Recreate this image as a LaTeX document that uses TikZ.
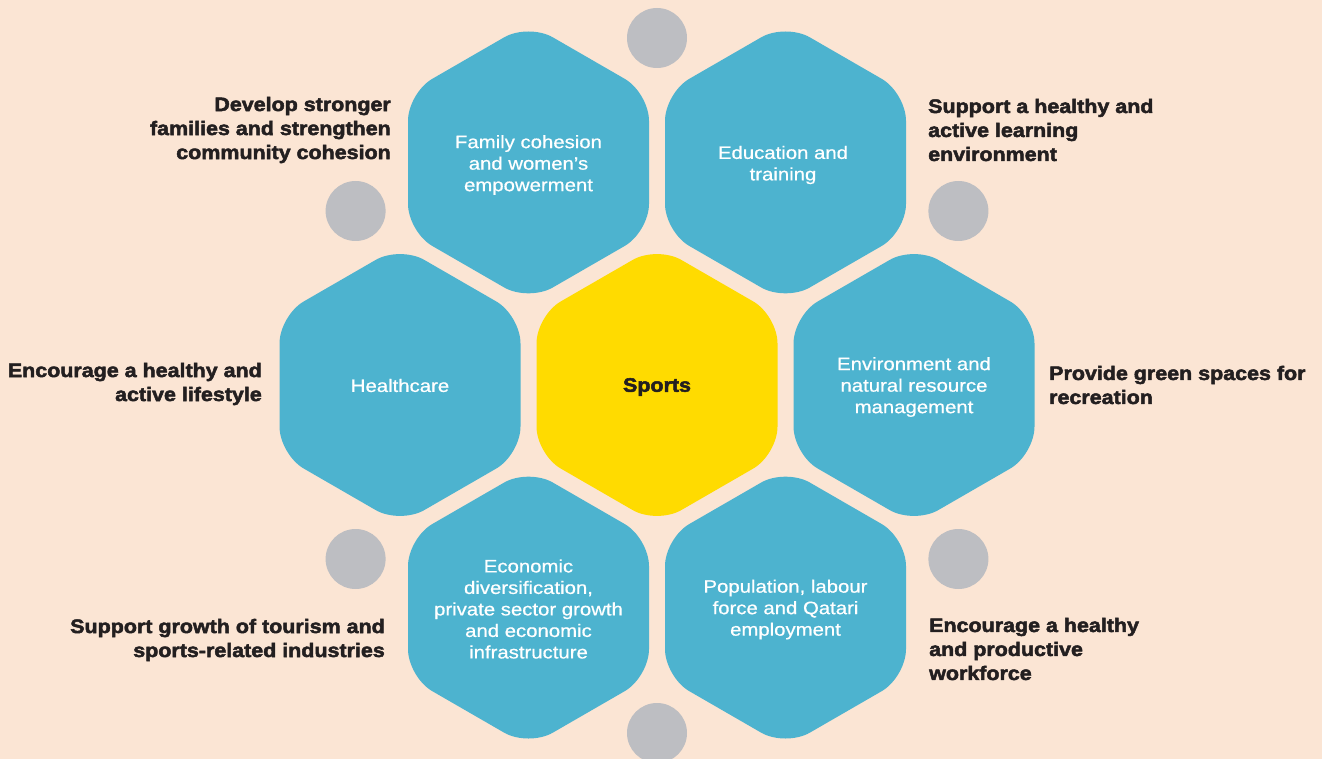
\documentclass[tikz,border=0pt]{standalone}
\usepackage{fontspec}
\setmainfont{Liberation Sans}
\newfontfamily\heavyfont{Liberation Sans}[BoldFeatures={FakeBold=2.5,FakeStretch=1.1}]
\newfontfamily\hexfont{Liberation Sans}[FakeStretch=1.13,FakeBold=0.6]
\definecolor{bgpeach}{HTML}{FBE5D4}
\definecolor{hexblue}{HTML}{4DB3CF}
\definecolor{sportyellow}{HTML}{FFDB00}
\definecolor{dotgrey}{HTML}{BDBEC2}
\definecolor{ink}{HTML}{231F20}
\tikzset{
  hexshape/.style={rounded corners=28pt},
  hextext/.style={text=white, inner sep=0pt, align=center, font=\hexfont\fontsize{18}{21.5}\selectfont},
  goaltext/.style={text=ink, inner sep=0pt, font=\heavyfont\bfseries\fontsize{19.5}{24}\selectfont},
  dot/.style={circle, fill=dotgrey, minimum size=60pt, inner sep=0pt}
}
\begin{document}
\begin{tikzpicture}[x=1pt,y=-1pt]
\fill[bgpeach] (0,0) rectangle (1322,759);
\useasboundingbox (0,0) rectangle (1322,759);
% hexagons
\foreach \cx/\cy/\col in {657/385/sportyellow, 400/385/hexblue, 914/385/hexblue,
  528.5/162.4/hexblue, 785.5/162.4/hexblue, 528.5/607.6/hexblue, 785.5/607.6/hexblue}{
  \fill[\col, hexshape, shift={(\cx,\cy)}]
    (120.5,0) -- (120.5,69.55) -- (0,139.1) -- (-120.5,69.55) -- (-120.5,-69.55)
    -- (0,-139.1) -- (120.5,-69.55) -- cycle;
}
% grey dots
\node[dot] (dtop) at (657,38) {};
\node[dot] (dul) at (355.6,211) {};
\node[dot] (dur) at (958.4,211) {};
\node[dot] (dll) at (355.6,559) {};
\node[dot] (dlr) at (958.4,559) {};
\node[dot] (dbot) at (657,733) {};
% hexagon texts
\node[goaltext] (sports) at (657,387) {Sports};
\node[hextext] (family) at (528.5,165) {Family cohesion\\and women’s\\empowerment};
\node[hextext] (edu) at (783,165) {Education and\\training};
\node[hextext] (health) at (400,385.5) {Healthcare};
\node[hextext] (env) at (914,387) {Environment and\\natural resource\\management};
\node[hextext] (econ) at (528.5,609) {Economic\\diversification,\\private sector growth\\and economic\\infrastructure};
\node[hextext] (pop) at (785.5,609.5) {Population, labour\\force and Qatari\\employment};
% goal labels
\node[goaltext, anchor=east, align=right] (gfamily) at (391,130) {Develop stronger\\families and strengthen\\community cohesion};
\node[goaltext, anchor=west, align=left] (gedu) at (928,130) {Support a healthy and\\active learning\\environment};
\node[goaltext, anchor=east, align=right] (ghealth) at (262,384) {Encourage a healthy and\\active lifestyle};
\node[goaltext, anchor=west, align=left] (genv) at (1049,385) {Provide green spaces for\\recreation};
\node[goaltext, anchor=east, align=right] (gecon) at (385,640) {Support growth of tourism and\\sports-related industries};
\node[goaltext, anchor=west, align=left] (gpop) at (929,649) {Encourage a healthy\\and productive\\workforce};
\end{tikzpicture}
\end{document}
